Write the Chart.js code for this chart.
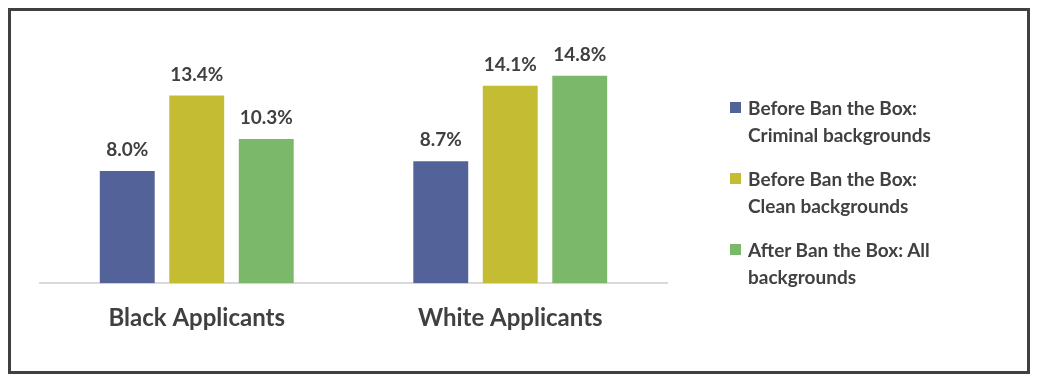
<!DOCTYPE html>
<html>
<head>
<meta charset="utf-8">
<script src="https://cdn.jsdelivr.net/npm/chart.js@4/dist/chart.umd.min.js"></script>
<style>
  html, body { margin: 0; padding: 0; background: #fff; }
  #wrap { position: relative; width: 1038px; height: 381px; }
  #frame { position: absolute; left: 8px; top: 8px; width: 1016px; height: 360px; border: 3px solid #404040; pointer-events: none; }
  #legend { position: absolute; left: 730px; top: 94px; font-family: Lato, sans-serif; font-weight: bold; font-size: 19px; color: #404040; }
  .item { position: relative; padding-left: 18px; line-height: 27px; white-space: pre-line; margin-bottom: 17px; }
  .box { position: absolute; left: 0; top: 8px; width: 11px; height: 11px; }
</style>
</head>
<body>
<div id="wrap">
  <canvas id="grafico" width="1038" height="381"></canvas>
  <div id="frame"></div>
  <div id="legend"></div>
</div>
<script>
var categorias = ['Black Applicants', 'White Applicants'];
var series = ['Before Ban the Box:\nCriminal backgrounds', 'Before Ban the Box:\nClean backgrounds', 'After Ban the Box: All\nbackgrounds'];
var criminal = [8.0, 8.7];
var limpio = [13.4, 14.1];
var despues = [10.3, 14.8];
var colores = ['rgb(83,99,153)', 'rgb(196,189,52)', 'rgb(124,184,106)'];

var valores = [criminal, limpio, despues];
var datasets = [];
for (var i = 0; i < series.length; i++) {
    datasets.push({
        label: series[i],
        data: valores[i],
        backgroundColor: colores[i],
        categoryPercentage: 0.665,
        barPercentage: 0.79
    });
}

// etiquetas encima de cada barra
const etiquetas = {
    id: 'etiquetas',
    afterDatasetsDraw(chart) {
        const ctx = chart.ctx;
        ctx.save();
        ctx.font = 'bold 19px Lato';
        ctx.fillStyle = '#404040';
        ctx.textAlign = 'center';
        ctx.textBaseline = 'middle';
        chart.data.datasets.forEach((ds, i) => {
            chart.getDatasetMeta(i).data.forEach((bar, j) => {
                ctx.fillText(ds.data[j].toFixed(1) + '%', bar.x, bar.y - 21);
            });
        });
        ctx.restore();
    }
};

new Chart(document.getElementById('grafico'), {
    type: 'bar',
    data: { labels: categorias, datasets: datasets },
    options: {
        responsive: false,
        animation: false,
        layout: { padding: { left: 40, right: 371, top: 31, bottom: 27 } },
        plugins: { legend: { display: false }, tooltip: { enabled: false } },
        scales: {
            x: {
                grid: { display: false, drawTicks: false },
                border: { display: true, color: '#d9d9d9', width: 2 },
                ticks: { padding: 21, color: '#404040', font: { family: 'Lato', size: 24, weight: 'bold' } }
            },
            y: { display: false, min: 0, max: 18 }
        }
    },
    plugins: [etiquetas]
});

var legend = document.getElementById('legend');
for (var i = 0; i < series.length; i++) {
    var item = document.createElement('div');
    item.className = 'item';
    item.innerHTML = "<span class='box' style='background:" + colores[i] + "'></span>" + series[i];
    legend.appendChild(item);
}
</script>
</body>
</html>
